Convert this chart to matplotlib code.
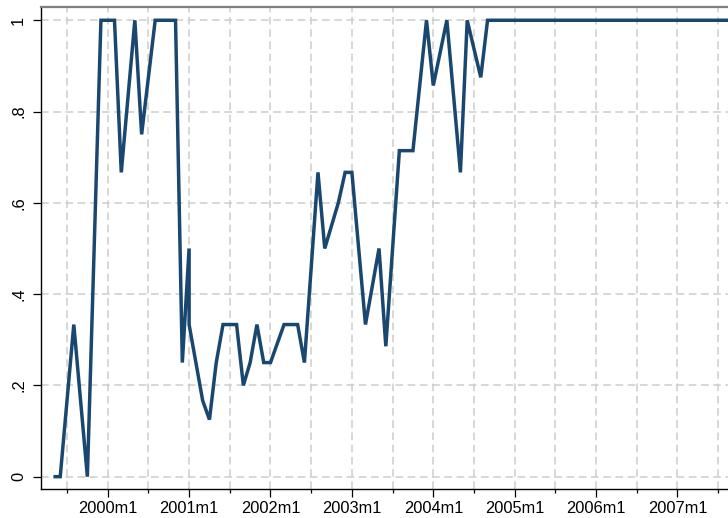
import matplotlib
matplotlib.use("Agg")
import matplotlib.pyplot as plt
from matplotlib.ticker import FixedLocator

plt.rcParams["font.family"] = ["Liberation Sans", "DejaVu Sans"]
plt.rcParams["lines.scale_dashes"] = False

# Monthly periods (Stata %tm style); 2001m1 carries two observations
periods = [
    "1999m5", "1999m6", "1999m7", "1999m8", "1999m9", "1999m10", "1999m11", "1999m12",
    "2000m1", "2000m2", "2000m3", "2000m4", "2000m5", "2000m6", "2000m7", "2000m8",
    "2000m9", "2000m10", "2000m11", "2000m12",
    "2001m1", "2001m1", "2001m2", "2001m3", "2001m4", "2001m5", "2001m6", "2001m7",
    "2001m8", "2001m9", "2001m10", "2001m11", "2001m12",
    "2002m1", "2002m2", "2002m3", "2002m4", "2002m5", "2002m6", "2002m7", "2002m8",
    "2002m9", "2002m10", "2002m11", "2002m12",
    "2003m1", "2003m2", "2003m3", "2003m4", "2003m5", "2003m6", "2003m7", "2003m8",
    "2003m9", "2003m10", "2003m11", "2003m12",
    "2004m1", "2004m2", "2004m3", "2004m4", "2004m5", "2004m6", "2004m7", "2004m8",
    "2004m9", "2004m10", "2004m11", "2004m12",
    "2005m1", "2005m2", "2005m3", "2005m4", "2005m5", "2005m6", "2005m7", "2005m8",
    "2005m9", "2005m10", "2005m11", "2005m12",
    "2006m1", "2006m2", "2006m3", "2006m4", "2006m5", "2006m6", "2006m7", "2006m8",
    "2006m9", "2006m10", "2006m11", "2006m12",
    "2007m1", "2007m2", "2007m3", "2007m4", "2007m5", "2007m6", "2007m7", "2007m8",
    "2007m9", "2007m10", "2007m11", "2007m12",
]

share = [
    0.0, 0.0, 0.1667, 0.3333, 0.1667, 0.0, 0.5, 1.0,
    1.0, 1.0, 0.6667, 0.8333, 1.0, 0.75, 0.875, 1.0,
    1.0, 1.0, 1.0, 0.25,
    0.5, 0.3333, 0.25, 0.1667, 0.125, 0.25, 0.3333, 0.3333,
    0.3333, 0.2, 0.25, 0.3333, 0.25,
    0.25, 0.2917, 0.3333, 0.3333, 0.3333, 0.25, 0.4583, 0.6667,
    0.5, 0.55, 0.6, 0.6667,
    0.6667, 0.5, 0.3333, 0.4167, 0.5, 0.2857, 0.5, 0.7143,
    0.7143, 0.7143, 0.8571, 1.0,
    0.8571, 0.9286, 1.0, 0.8333, 0.6667, 1.0, 0.9375, 0.875,
    1.0, 1.0, 1.0, 1.0,
    1.0, 1.0, 1.0, 1.0, 1.0, 1.0, 1.0, 1.0,
    1.0, 1.0, 1.0, 1.0,
    1.0, 1.0, 1.0, 1.0, 1.0, 1.0, 1.0, 1.0,
    1.0, 1.0, 1.0, 1.0,
    1.0, 1.0, 1.0, 1.0, 1.0, 1.0, 1.0, 1.0,
    1.0, 1.0, 1.0, 1.0,
]

x_tick_labels = ["2000m1", "2001m1", "2002m1", "2003m1",
                 "2004m1", "2005m1", "2006m1", "2007m1"]
y_ticks = [0, 0.2, 0.4, 0.6, 0.8, 1.0]
y_tick_labels = ["0", ".2", ".4", ".6", ".8", "1"]


def to_month(p):
    """Months elapsed since 2000m1."""
    y, m = p.split("m")
    return (int(y) - 2000) * 12 + int(m) - 1


x = [to_month(p) for p in periods]
major_x = [to_month(p) for p in x_tick_labels]
minor_x = [v + 6 for v in [major_x[0] - 12] + major_x]

fig = plt.figure(figsize=(7.28, 5.18), dpi=100)
ax = fig.add_axes([0.0559, 0.056, 0.9441, 0.930])

navy = "#1a476f"
grid_kw = dict(color="#cdcdcd", linewidth=1.1, dashes=(5.5, 3.3))

ax.plot(x, share, color=navy, linewidth=2.5, solid_joinstyle="miter",
        solid_capstyle="butt", zorder=3)

ax.set_xlim(-9.88, 91.45)
ax.set_ylim(-0.027, 1.0285)

ax.xaxis.set_major_locator(FixedLocator(major_x))
ax.xaxis.set_minor_locator(FixedLocator(minor_x))
ax.set_xticklabels(x_tick_labels)
ax.set_yticks(y_ticks)
ax.set_yticklabels(y_tick_labels, rotation=90, va="center")

ax.grid(True, which="both", axis="x", **grid_kw)
ax.grid(True, which="major", axis="y", **grid_kw)
ax.set_axisbelow(True)

ax.tick_params(axis="x", which="major", length=5.5, width=0.9, pad=3.5,
               labelsize=11.8, colors="black")
ax.tick_params(axis="x", which="minor", length=3.0, width=0.9)
ax.tick_params(axis="y", which="major", length=5.5, width=0.9, pad=5,
               labelsize=11.8, colors="black")

for side in ("left", "bottom"):
    ax.spines[side].set_color("black")
    ax.spines[side].set_linewidth(1.0)
ax.spines["top"].set_color("#7f7f7f")
ax.spines["top"].set_linewidth(1.6)
ax.spines["right"].set_visible(False)

fig.savefig("out.png", dpi=100, facecolor="white")
